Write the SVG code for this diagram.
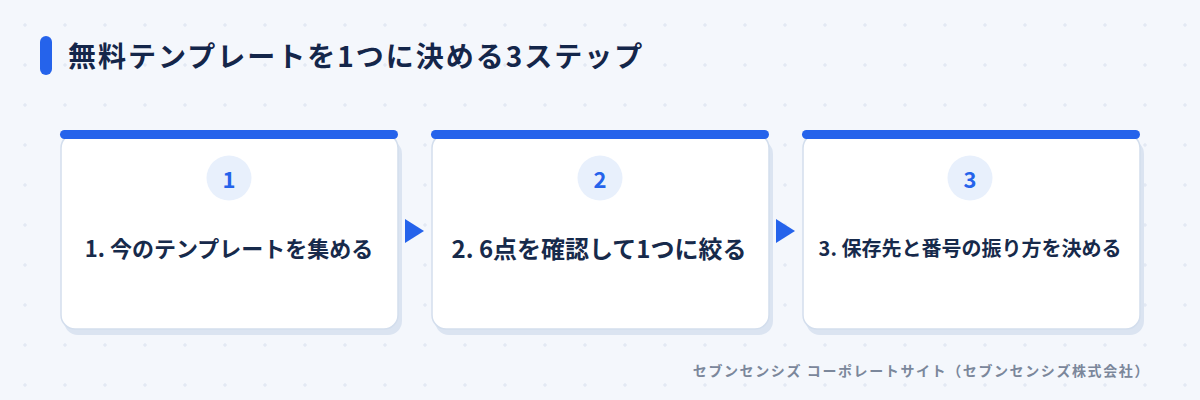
<svg xmlns="http://www.w3.org/2000/svg" width="1200" height="400" viewBox="0 0 1200 400">
  <defs>
    <pattern id="grid" x="0" y="0" width="40" height="40" patternUnits="userSpaceOnUse">
      <path d="M23 25h4M25 23v4" stroke="#dde4f1" stroke-width="1"/>
    </pattern>
    <style>
      .jp { font-family: "Noto Sans CJK JP", "Noto Sans", sans-serif; font-weight: 700; }
      .title { font-size: 28px; fill: #14264a; letter-spacing: 2px; dominant-baseline: central; }
      .label { fill: #172a4b; text-anchor: middle; dominant-baseline: central; }
      .num { font-size: 22px; fill: #2563eb; text-anchor: middle; dominant-baseline: central; }
      .shadow { fill: #dbe4f1; }
      .card { fill: #ffffff; stroke: #d3deed; stroke-width: 1.5; }
      .bar { fill: #2563eb; }
      .badge { fill: #e8f0fc; }
      .arrow { fill: #2563eb; }
      .footer { font-size: 14px; fill: #7b879b; letter-spacing: 1.6px; text-anchor: end; dominant-baseline: central; }
    </style>
  </defs>
  <rect width="1200" height="400" fill="#f4f7fc"/>
  <rect width="1200" height="400" fill="url(#grid)"/>

  <g id="title">
    <rect x="40" y="36" width="12" height="39" rx="6" fill="#2563eb"/>
    <text class="jp title" x="68" y="55">無料テンプレートを1つに決める3ステップ</text>
  </g>

  <g id="step1">
    <rect class="shadow" x="64" y="140" width="338" height="195" rx="14"/>
    <rect class="card" x="61" y="134" width="337" height="195" rx="14"/>
    <rect class="bar" x="60" y="130" width="338" height="9" rx="4.5"/>
    <circle class="badge" cx="229" cy="178" r="22.5"/>
    <text class="jp num" x="229" y="178">1</text>
    <text class="jp label" x="229" y="247" font-size="22">1. 今のテンプレートを集める</text>
  </g>

  <g id="step2">
    <rect class="shadow" x="435" y="140" width="338" height="195" rx="14"/>
    <rect class="card" x="432" y="134" width="337" height="195" rx="14"/>
    <rect class="bar" x="431" y="130" width="338" height="9" rx="4.5"/>
    <circle class="badge" cx="600" cy="178" r="22.5"/>
    <text class="jp num" x="600" y="178">2</text>
    <text class="jp label" x="599" y="247" font-size="24">2. 6点を確認して1つに絞る</text>
  </g>

  <g id="step3">
    <rect class="shadow" x="806" y="140" width="338" height="195" rx="14"/>
    <rect class="card" x="803" y="134" width="337" height="195" rx="14"/>
    <rect class="bar" x="802" y="130" width="338" height="9" rx="4.5"/>
    <circle class="badge" cx="970" cy="178" r="22.5"/>
    <text class="jp num" x="970" y="178">3</text>
    <text class="jp label" x="970" y="247" font-size="20">3. 保存先と番号の振り方を決める</text>
  </g>

  <g id="connectors">
    <polygon class="arrow" points="405,219 424,231 405,243"/>
    <polygon class="arrow" points="776,219 795,231 776,243"/>
  </g>

  <g id="footer">
    <text class="jp footer" x="1150" y="370">セブンセンシズ コーポレートサイト（セブンセンシズ株式会社）</text>
  </g>
</svg>
